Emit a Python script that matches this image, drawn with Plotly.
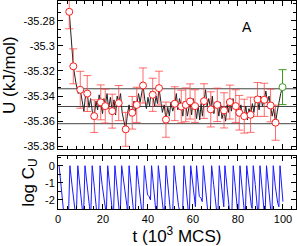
import plotly.graph_objects as go

# ---------------- data ----------------
# block averages of U (red markers) with error bars
blk_t = [5.0, 6.8, 9.9, 13.0, 16.1, 19.0, 21.0, 24.1, 27.0, 30.1, 33.0, 35.0, 37.8,
         42.1, 44.9, 48.0, 51.9, 54.8, 56.8, 58.7, 60.9, 64.9, 67.9, 70.8, 73.8,
         76.4, 79.0, 80.6, 82.8, 85.6, 88.7, 91.7, 94.5, 96.7]
blk_u = [-35.2729, -35.3163, -35.3350, -35.3380, -35.3560, -35.3450, -35.3480, -35.3520,
         -35.3456, -35.3665, -35.3533, -35.3470, -35.3316, -35.3390, -35.3337, -35.3588,
         -35.3461, -35.3483, -35.3470, -35.3443, -35.3480, -35.3440, -35.3506, -35.3470,
         -35.3514, -35.3448, -35.3480, -35.3533, -35.3560, -35.3549, -35.3427, -35.3430,
         -35.3475, -35.3612]
blk_err = [0.0135, 0.0139, 0.0147, 0.0143, 0.0130, 0.0139, 0.0135, 0.0135, 0.0140,
           0.0135, 0.0130, 0.0140, 0.0140, 0.0132, 0.0135, 0.0140, 0.0135, 0.0130,
           0.0135, 0.0140, 0.0130, 0.0138, 0.0140, 0.0133, 0.0140, 0.0135, 0.0130,
           0.0138, 0.0135, 0.0140, 0.0135, 0.0132, 0.0130, 0.0140]

# final (green) point
fin_t = [99.8]
fin_u = [-35.3329]
fin_err = [0.0139]

# instantaneous U (black line)
line_t = [5.0, 6.8, 8.0, 9.0, 9.9, 10.8, 11.5, 12.2, 13.0, 13.8, 14.5, 15.3, 16.1, 16.9,
          17.6, 18.3, 19.0, 19.8, 20.4, 21.0, 21.8, 22.5, 23.3, 24.1, 24.9, 25.6, 26.3,
          27.0, 27.8, 28.5, 29.3, 30.1, 30.9, 31.6, 32.3, 33.0, 33.8, 34.4, 35.0, 35.8,
          36.5, 37.2, 37.8, 38.6, 39.3, 40.0, 40.7, 41.4, 42.1, 42.9, 43.6, 44.2, 44.9,
          45.7, 46.4, 47.2, 48.0, 48.8, 49.5, 50.2, 51.0, 51.9, 52.6, 53.3, 54.0, 54.8,
          55.5, 56.1, 56.8, 57.5, 58.1, 58.7, 59.4, 60.1, 60.9, 61.6, 62.3, 63.0, 63.6,
          64.2, 64.9, 65.6, 66.3, 67.0, 67.9, 68.6, 69.3, 70.0, 70.8, 71.5, 72.2, 72.9,
          73.8, 74.5, 75.2, 75.8, 76.4, 77.1, 77.8, 78.4, 79.0, 79.8, 80.6, 81.3, 82.0,
          82.8, 83.5, 84.2, 84.9, 85.6, 86.4, 87.1, 87.9, 88.7, 89.4, 90.1, 90.9, 91.7,
          92.4, 93.1, 93.8, 94.5, 95.2, 95.9, 96.7, 97.5, 98.3, 99.0, 99.8]
line_u = [-35.2729, -35.3163, -35.3300, -35.3380, -35.3350, -35.3440, -35.3520, -35.3400,
          -35.3380, -35.3490, -35.3420, -35.3530, -35.3560, -35.3440, -35.3510, -35.3390,
          -35.3450, -35.3540, -35.3420, -35.3480, -35.3380, -35.3500, -35.3410, -35.3520,
          -35.3430, -35.3550, -35.3400, -35.3456, -35.3380, -35.3530, -35.3600, -35.3665,
          -35.3540, -35.3470, -35.3560, -35.3533, -35.3440, -35.3520, -35.3470, -35.3380,
          -35.3450, -35.3370, -35.3316, -35.3430, -35.3500, -35.3410, -35.3480, -35.3360,
          -35.3390, -35.3480, -35.3400, -35.3460, -35.3337, -35.3440, -35.3530, -35.3470,
          -35.3588, -35.3490, -35.3560, -35.3450, -35.3520, -35.3461, -35.3380, -35.3510,
          -35.3420, -35.3483, -35.3560, -35.3440, -35.3470, -35.3560, -35.3480, -35.3443,
          -35.3550, -35.3420, -35.3480, -35.3580, -35.3470, -35.3590, -35.3460, -35.3560,
          -35.3440, -35.3350, -35.3480, -35.3420, -35.3506, -35.3400, -35.3540, -35.3460,
          -35.3470, -35.3560, -35.3450, -35.3580, -35.3514, -35.3600, -35.3470, -35.3530,
          -35.3448, -35.3520, -35.3420, -35.3500, -35.3480, -35.3560, -35.3533, -35.3470,
          -35.3570, -35.3560, -35.3480, -35.3590, -35.3500, -35.3549, -35.3460, -35.3530,
          -35.3420, -35.3427, -35.3510, -35.3400, -35.3480, -35.3430, -35.3360, -35.3450,
          -35.3400, -35.3475, -35.3560, -35.3500, -35.3612, -35.3520, -35.3440, -35.3380,
          -35.3329]

# mean and +/- one standard deviation
band_u = [-35.3342, -35.3483, -35.3620]

# log of autocorrelation function (blue line)
cu_t = [0.5, 1.4, 2.5, 4.6,
        5.3, 6.2, 7.3, 7.9, 8.1,
        8.8, 9.7, 10.8, 11.3,
        12.0, 12.9, 14.0, 14.5,
        15.2, 16.1, 17.2, 18.0,
        18.7, 19.6, 20.7, 21.2, 21.4,
        22.1, 23.0, 24.1, 24.6,
        25.3, 26.2, 27.3, 27.6,
        28.3, 29.2, 30.3, 30.7, 30.9,
        31.6, 32.5, 33.6, 34.3,
        35.0, 35.9, 37.0, 37.7,
        38.4, 39.3, 39.8, 40.5, 41.1,
        41.6, 42.5, 43.6, 43.9,
        44.6, 45.5, 46.6, 47.3,
        48.0, 48.9, 50.0, 50.9,
        51.6, 52.5, 53.6, 54.4, 55.3,
        56.0, 56.9, 58.0, 58.3,
        59.0, 59.9, 61.1,
        61.6, 62.3, 62.8, 63.6, 64.1,
        64.6, 65.5, 66.6, 67.6,
        68.3, 69.2, 70.3, 71.0,
        71.7, 72.6, 73.7,
        74.2, 75.1, 76.2, 77.2,
        77.9, 78.8, 79.9, 80.2,
        80.9, 81.8, 82.9, 83.2,
        83.9, 84.8, 85.9, 86.3,
        86.8, 87.7, 88.8, 89.1,
        89.8, 90.7, 91.8, 92.0,
        92.7, 93.6, 94.7, 95.0,
        95.7, 96.6, 97.7, 98.2,
        98.7, 99.5, 100.0]
cu_v = [0.0, -1.2, -2.7, -3.2,
        0.0, -1.1, -2.3, -2.8, -3.2,
        0.0, -1.2, -2.6, -3.2,
        0.0, -1.0, -2.4, -3.2,
        0.0, -1.2, -2.7, -3.2,
        0.0, -1.1, -2.3, -2.6, -3.2,
        0.0, -1.2, -2.7, -3.2,
        0.0, -1.1, -2.6, -3.2,
        0.0, -1.0, -2.2, -2.4, -3.2,
        0.0, -1.2, -2.7, -3.2,
        0.0, -1.1, -2.6, -3.2,
        0.0, -1.2, -1.7, -1.8, -2.0,
        0.0, -1.2, -2.7, -3.2,
        0.0, -1.1, -2.6, -3.2,
        0.0, -1.2, -2.7, -3.2,
        0.0, -1.1, -2.4, -2.7, -3.2,
        0.0, -1.2, -2.7, -3.2,
        0.0, -1.1, -2.4,
        0.0, -1.2, -1.8, -1.9, -2.1,
        0.0, -1.2, -2.7, -3.2,
        0.0, -1.1, -2.6, -3.2,
        0.0, -1.2, -2.4,
        0.0, -1.1, -2.6, -3.2,
        0.0, -1.2, -2.7, -3.2,
        0.0, -1.1, -2.6, -3.2,
        0.0, -1.2, -2.3, -2.5,
        0.0, -1.1, -2.6, -3.2,
        0.0, -1.2, -2.7, -3.2,
        0.0, -1.1, -2.6, -3.2,
        0.0, -1.2, -2.2, -2.4,
        0.0, -1.2, -2.1]

x_ticks = [0, 20, 40, 60, 80, 100]
u_ticks = [-35.28, -35.30, -35.32, -35.34, -35.36, -35.38]
u_ticktext = ["-35.28", "-35.3", "-35.32", "-35.34", "-35.36", "-35.38"]
c_ticks = [0, -1, -2]
c_ticktext = ["0", "-1", "-2"]

# panel label
label_text = "A"
label_t = 84
label_u = -35.2848

# ---------------- figure ----------------
FONT = "Liberation Sans"
fig = go.Figure()

fig.add_trace(go.Scatter(x=line_t, y=line_u, mode="lines",
                         line=dict(color="#222222", width=1),
                         xaxis="x", yaxis="y", showlegend=False))
fig.add_trace(go.Scatter(x=blk_t, y=blk_u, mode="markers",
                         marker=dict(symbol="circle", size=7, color="white",
                                     line=dict(color="#ff1a1a", width=1)),
                         error_y=dict(type="data", array=blk_err, color="rgba(255,60,60,0.75)",
                                      thickness=1, width=4),
                         xaxis="x", yaxis="y", showlegend=False))
fig.add_trace(go.Scatter(x=fin_t, y=fin_u, mode="markers",
                         marker=dict(symbol="circle", size=7, color="white",
                                     line=dict(color="#3d9a1e", width=1)),
                         error_y=dict(type="data", array=fin_err, color="#3d9a1e",
                                      thickness=1, width=4),
                         xaxis="x", yaxis="y", showlegend=False))
fig.add_trace(go.Scatter(x=cu_t, y=cu_v, mode="lines",
                         line=dict(color="#1a1aff", width=1),
                         xaxis="x2", yaxis="y2", showlegend=False))

for yv in band_u:
    fig.add_shape(type="line", xref="x domain", yref="y", x0=0, x1=1, y0=yv, y1=yv,
                  line=dict(color="#444444", width=1), layer="below")

fig.add_annotation(x=label_t, y=label_u, xref="x", yref="y", text=label_text,
                   showarrow=False, font=dict(family=FONT, size=14, color="black"))

axis_common = dict(showline=True, linecolor="black", linewidth=1, mirror="allticks",
                   ticks="inside", ticklen=5, tickcolor="black", tickwidth=1,
                   showgrid=False, zeroline=False,
                   tickfont=dict(family=FONT, size=11, color="black"))

fig.update_layout(
    width=297, height=246,
    margin=dict(l=58, r=1, t=1, b=37),
    paper_bgcolor="white", plot_bgcolor="white",
    font=dict(family=FONT, color="black"),
    xaxis=dict(domain=[0, 1], range=[0, 105.8], anchor="y", tickvals=x_ticks,
               showticklabels=False,
               minor=dict(ticks="inside", dtick=4, tick0=0, ticklen=3, tickcolor="black"),
               **axis_common),
    yaxis=dict(domain=[0.287, 1], range=[-35.3824, -35.2643], anchor="x",
               tickvals=u_ticks, ticktext=u_ticktext,
               minor=dict(ticks="inside", dtick=0.02 / 3, tick0=-35.28, ticklen=3,
                          tickcolor="black"),
               title=dict(text="U (kJ/mol)", font=dict(family=FONT, size=17), standoff=6),
               **axis_common),
    xaxis2=dict(domain=[0, 1], range=[0, 105.8], anchor="y2", tickvals=x_ticks,
                minor=dict(ticks="inside", dtick=4, tick0=0, ticklen=3, tickcolor="black"),
                title=dict(text="t (10<sup>3</sup> MCS)", font=dict(family=FONT, size=17),
                           standoff=4),
                **axis_common),
    yaxis2=dict(domain=[0, 0.255], range=[-2.53, 0.57], anchor="x2",
                tickvals=c_ticks, ticktext=c_ticktext,
                minor=dict(ticks="inside", dtick=0.5, tick0=0, ticklen=3, tickcolor="black"),
                title=dict(text="log C<sub>U</sub>", font=dict(family=FONT, size=17),
                           standoff=6),
                **axis_common),
)

fig.write_html("out.html", config={"displayModeBar": False, "staticPlot": True},
               post_script="document.body.style.margin='0';document.body.style.overflow='hidden';")
